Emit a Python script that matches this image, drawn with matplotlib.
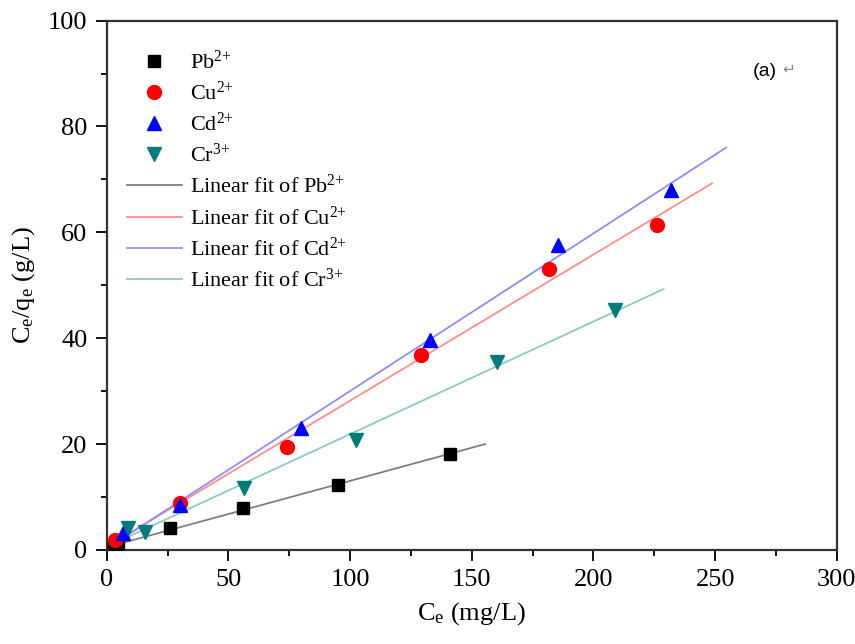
import numpy as np
import matplotlib
matplotlib.use("Agg")
import matplotlib.pyplot as plt

plt.rcParams['font.family'] = ['Liberation Serif', 'DejaVu Serif']
plt.rcParams['mathtext.fontset'] = 'custom'
plt.rcParams['mathtext.rm'] = 'Liberation Serif'
plt.rcParams['mathtext.it'] = 'Liberation Serif:italic'

# Ce (mg/L) and Ce/qe (g/L)
pb_x = [3.0, 4.6, 25.9, 56.0, 95.1, 141.1]
pb_y = [0.6, 0.94, 4.1, 7.9, 12.3, 18.1]
cu_x = [3.4, 30.1, 74.1, 129.3, 181.7, 226.3]
cu_y = [1.9, 8.9, 19.5, 36.8, 53.1, 61.4]
cd_x = [6.7, 30.1, 80.0, 132.7, 185.5, 231.7]
cd_y = [3.2, 8.5, 23.0, 39.7, 57.6, 68.0]
cr_x = [8.7, 15.7, 56.3, 102.3, 160.2, 208.9]
cr_y = [4.2, 3.4, 11.8, 20.8, 35.6, 45.3]

ions = ["Pb", "Cu", "Cd", "Cr"]
charges = ["2", "2", "2", "3"]
fit_end = [155.5, 248.7, 254.5, 228.8]  # where each fitted line stops

marker_colors = ["black", "red", "blue", "#007b7b"]
line_colors = ["#808080", "#ff8c8c", "#8c8cff", "#8cc8c8"]
markers = ["s", "o", "^", "v"]

xs = [pb_x, cu_x, cd_x, cr_x]
ys = [pb_y, cu_y, cd_y, cr_y]

fig = plt.figure(figsize=(8.55, 6.44), dpi=100)
ax = fig.add_axes([0.1248, 0.146, 0.854, 0.822])

# lines first so markers sit on top
fit_handles = []
for i in range(4):
    k, b = np.polyfit(xs[i], ys[i], 1)
    xx = np.array([0, fit_end[i]])
    h, = ax.plot(xx, k * xx + b, color=line_colors[i], lw=1.3, zorder=2,
                 label="Linear fit of %s$^{\\mathrm{%s}{+}}$" % (ions[i], charges[i]))
    fit_handles.append(h)

pt_handles = []
for i in range(4):
    h, = ax.plot(xs[i], ys[i], ls="none", marker=markers[i], ms=10 if markers[i] != "s" else 9,
                 color=marker_colors[i], mec=marker_colors[i], zorder=3,
                 label="%s$^{\\mathrm{%s}{+}}$" % (ions[i], charges[i]))
    pt_handles.append(h)

ax.set_xlim(0, 300)
ax.set_ylim(0, 100)
ax.set_xticks(np.arange(0, 301, 50))
ax.set_xticks(np.arange(25, 300, 50), minor=True)
ax.set_yticks(np.arange(0, 101, 20))
ax.set_yticks(np.arange(10, 100, 20), minor=True)
ax.tick_params(which="major", direction="out", length=8, width=1.3, labelsize=19, pad=6)
ax.tick_params(which="minor", direction="out", length=4.5, width=1.3)
for s in ax.spines.values():
    s.set_linewidth(1.6)
    s.set_color("#333333")

ax.set_xlabel("C$_{\\mathrm{e}}$ (mg/L)", fontsize=19, labelpad=6)
ax.set_ylabel("C$_{\\mathrm{e}}$/q$_{\\mathrm{e}}$ (g/L)", fontsize=19, labelpad=8)

ax.legend(handles=pt_handles + fit_handles, loc="upper left",
          bbox_to_anchor=(0.012, 0.965), frameon=False, fontsize=16,
          handlelength=2.5, handletextpad=0.35, labelspacing=0.36, borderpad=0)

ax.text(265.5, 90.4, "(a)", fontsize=14, family="Liberation Sans", va="center")
ax.text(277.5, 90.8, "\u21b5", fontsize=11, family="DejaVu Sans", color="#888888", va="center")

fig.savefig("out.png", dpi=100)
